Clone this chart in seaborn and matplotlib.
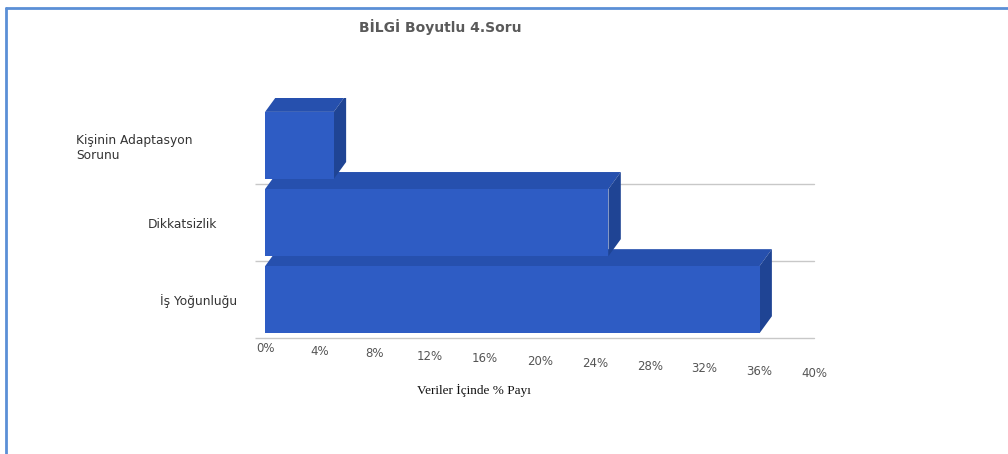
import matplotlib
matplotlib.use("Agg")
import matplotlib.pyplot as plt
import matplotlib.transforms as mtrans
from matplotlib.patches import Polygon
import seaborn as sns
import pandas as pd

# ---- data ----
categories = ["Kişinin Adaptasyon\nSorunu", "Dikkatsizlik", "İş Yoğunluğu"]
values = [5, 25, 36]
x_ticks = [0, 4, 8, 12, 16, 20, 24, 28, 32, 36, 40]
x_tick_labels = [f"{t}%" for t in x_ticks]
title = "BİLGİ Boyutlu 4.Soru"
x_label = "Veriler İçinde % Payı"

# ---- style ----
front_c = "#2E5CC4"
top_c = "#2650AE"
side_c = "#1F4494"

sns.set_theme(style="white")
plt.rcParams["font.family"] = ["DejaVu Sans"]

fig = plt.figure(figsize=(10.08, 4.54), dpi=100)
ax = fig.add_axes([0.263, 0.255, 0.545, 0.53])

df = pd.DataFrame({"cat": categories, "val": values})
sns.barplot(data=df, x="val", y="cat", orient="h", color=front_c,
            saturation=1, width=0.87, ax=ax, zorder=5)

ax.set_xlim(0, 40)
ax.set_ylim(2.5, -0.62)

# 3D-like faces derived from the bar patches
dx, dy = 0.9, 0.22
n = len(ax.patches)
for i, p in enumerate(ax.patches):
    x0 = p.get_x(); w = p.get_width()
    y0 = p.get_y(); h = p.get_height()
    x1 = x0 + w
    yt, yb = y0, y0 + h
    z = 5 + (n - i) * 3
    p.set_zorder(z)
    p.set_edgecolor("none")
    top = Polygon([(x0, yt), (x0 + dx, yt - dy), (x1 + dx, yt - dy), (x1, yt)],
                  closed=True, facecolor=top_c, edgecolor="none", zorder=z - 1)
    side = Polygon([(x1, yt), (x1 + dx, yt - dy), (x1 + dx, yb - dy), (x1, yb)],
                   closed=True, facecolor=side_c, edgecolor="none", zorder=z - 1)
    ax.add_patch(top)
    ax.add_patch(side)

# gridlines at category boundaries
bounds = [0.5, 1.5, 2.5]
ax.set_yticks(bounds, minor=True)
ax.grid(False)
for b in bounds:
    ax.axhline(b, color="#c8c8c8", lw=1.0, zorder=1, clip_on=False)
ax.tick_params(axis="y", which="minor", length=7, color="#c8c8c8", width=1, left=True)
ax.tick_params(axis="y", which="major", length=0, pad=20, labelsize=8.8, labelcolor="#333333")

for s in ax.spines.values():
    s.set_visible(False)

ax.set_xticks(x_ticks)
ax.set_xticklabels(x_tick_labels)
ax.tick_params(axis="x", length=0, pad=3, labelsize=8.5, labelcolor="#555555")
ax.set_ylabel("")
ax.set_xlabel(x_label, family="Liberation Serif", fontsize=9.5, color="#111111")
ax.xaxis.set_label_coords(0.38, -0.19)

# perspective-like descending tick labels
for i, lab in enumerate(ax.get_xticklabels()):
    lab.set_transform(lab.get_transform() +
                      mtrans.ScaledTranslation(0, -i * 0.025, fig.dpi_scale_trans))

ylabs = ax.get_yticklabels()
shifts = [-0.45, -0.2, 0.0]
for lab, s in zip(ylabs, shifts):
    lab.set_multialignment("left")
    lab.set_transform(lab.get_transform() +
                      mtrans.ScaledTranslation(s, 0, fig.dpi_scale_trans))

fig.text(0.437, 0.94, title, ha="center", va="center", fontsize=10,
         fontweight="semibold", color="#5a5a5a")

# frame (top and left border)
fig.add_artist(plt.Line2D([0.006, 1.0], [0.982, 0.982], transform=fig.transFigure,
                          color="#5B8FD6", lw=2))
fig.add_artist(plt.Line2D([0.006, 0.006], [0.0, 0.982], transform=fig.transFigure,
                          color="#5B8FD6", lw=2))

fig.savefig("out.png", dpi=100)
